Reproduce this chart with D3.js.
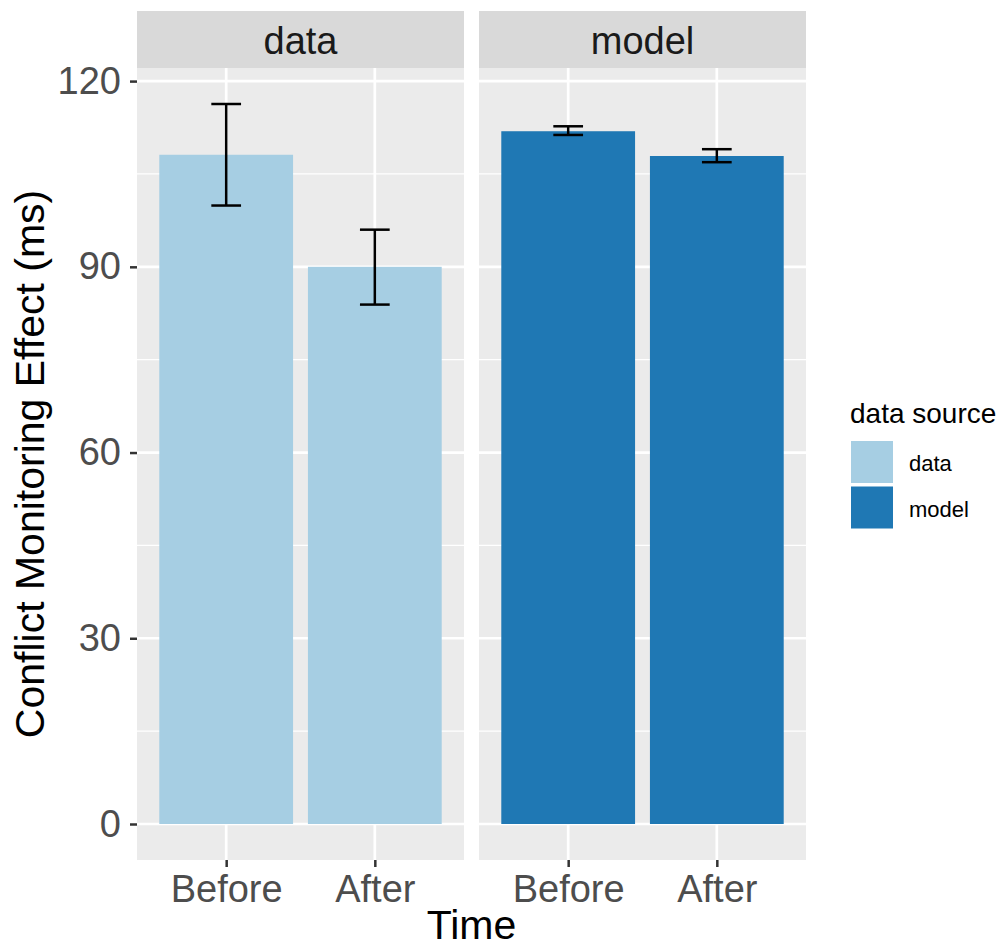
<!DOCTYPE html>
<html>
<head>
<meta charset="utf-8">
<script src="https://cdn.jsdelivr.net/npm/d3@7"></script>
<style>
  body { margin: 0; background: #fff; }
  svg { display: block; font-family: "Liberation Sans", Arial, sans-serif; }
</style>
</head>
<body>
<div id="chart"></div>
<script>
// values
const times = ["Before", "After"];
const sources = ["data", "model"];
const dataMean = [108.1, 90.0];
const dataLower = [99.9, 83.9];
const dataUpper = [116.3, 96.0];
const modelMean = [111.9, 107.9];
const modelLower = [111.3, 106.9];
const modelUpper = [112.7, 109.0];
const yTicks = [0, 30, 60, 90, 120];
const yMinor = [15, 45, 75, 105];
const colors = ["#a6cee3", "#1f78b4"];

const width = 1001, height = 949;
const panelTop = 68, panelBottom = 860;
const panelW = 327, panelGap = 15, panelLeft = 137;

const svg = d3.select("#chart").append("svg")
    .attr("width", width)
    .attr("height", height);

svg.append("rect").attr("width", width).attr("height", height).attr("fill", "#fff");

// build rows per facet
const facets = sources.map((s, i) => {
    const mean = i === 0 ? dataMean : modelMean;
    const lo = i === 0 ? dataLower : modelLower;
    const hi = i === 0 ? dataUpper : modelUpper;
    return {
        source: s,
        rows: times.map((t, j) => ({ time: t, mean: mean[j], lo: lo[j], hi: hi[j] }))
    };
});

// y scale with ggplot-like 5% expansion
const maxV = d3.max(facets, f => d3.max(f.rows, r => r.hi));
const ext = maxV * 0.05;
let y = d3.scaleLinear().domain([0 - ext, maxV + ext]).range([panelBottom, panelTop]);

facets.forEach((f, i) => {
    const x0 = panelLeft + i * (panelW + panelGap);
    let x = d3.scalePoint().domain(times).range([x0, x0 + panelW]).padding(0.6);
    const step = x.step();

    let g = svg.append("g");

    // strip
    g.append("rect")
        .attr("x", x0).attr("y", 11)
        .attr("width", panelW).attr("height", panelTop - 11)
        .attr("fill", "#d9d9d9");
    g.append("text")
        .attr("x", x0 + panelW / 2).attr("y", 54)
        .attr("text-anchor", "middle")
        .attr("font-size", 38)
        .attr("fill", "#1a1a1a")
        .text(f.source);

    // panel background
    g.append("rect")
        .attr("x", x0).attr("y", panelTop)
        .attr("width", panelW).attr("height", panelBottom - panelTop)
        .attr("fill", "#ebebeb");

    // grid
    g.selectAll(".minor").data(yMinor).enter().append("line")
        .attr("x1", x0).attr("x2", x0 + panelW)
        .attr("y1", d => y(d)).attr("y2", d => y(d))
        .attr("stroke", "#fff").attr("stroke-width", 1.3);
    g.selectAll(".major").data(yTicks).enter().append("line")
        .attr("x1", x0).attr("x2", x0 + panelW)
        .attr("y1", d => y(d)).attr("y2", d => y(d))
        .attr("stroke", "#fff").attr("stroke-width", 2.7);
    g.selectAll(".vgrid").data(times).enter().append("line")
        .attr("x1", d => x(d)).attr("x2", d => x(d))
        .attr("y1", panelTop).attr("y2", panelBottom)
        .attr("stroke", "#fff").attr("stroke-width", 2.7);

    // bars
    g.selectAll(".bar").data(f.rows).enter().append("rect")
        .attr("x", d => x(d.time) - step * 0.45)
        .attr("y", d => y(d.mean))
        .attr("width", step * 0.9)
        .attr("height", d => y(0) - y(d.mean))
        .attr("fill", colors[i]);

    // error bars
    const eb = g.selectAll(".err").data(f.rows).enter().append("g")
        .attr("stroke", "#000").attr("stroke-width", 2.5);
    eb.append("line")
        .attr("x1", d => x(d.time)).attr("x2", d => x(d.time))
        .attr("y1", d => y(d.lo)).attr("y2", d => y(d.hi));
    eb.append("line")
        .attr("x1", d => x(d.time) - step * 0.1).attr("x2", d => x(d.time) + step * 0.1)
        .attr("y1", d => y(d.hi)).attr("y2", d => y(d.hi));
    eb.append("line")
        .attr("x1", d => x(d.time) - step * 0.1).attr("x2", d => x(d.time) + step * 0.1)
        .attr("y1", d => y(d.lo)).attr("y2", d => y(d.lo));

    // x axis
    const xAxis = g.append("g")
        .attr("transform", "translate(0," + panelBottom + ")")
        .call(d3.axisBottom(x).tickSize(7).tickPadding(8));
    xAxis.select(".domain").remove();
    xAxis.selectAll("line").attr("stroke", "#333").attr("stroke-width", 2.5);
    xAxis.selectAll("text")
        .attr("font-size", 38)
        .attr("fill", "#4d4d4d")
        .attr("font-family", "Liberation Sans, Arial, sans-serif");
});

// y axis
const yAxis = svg.append("g")
    .attr("transform", "translate(" + panelLeft + ",0)")
    .call(d3.axisLeft(y).tickValues(yTicks).tickSize(7).tickPadding(9));
yAxis.select(".domain").remove();
yAxis.selectAll("line").attr("stroke", "#333").attr("stroke-width", 2.5);
yAxis.selectAll("text")
    .attr("font-size", 38)
    .attr("fill", "#4d4d4d")
    .attr("font-family", "Liberation Sans, Arial, sans-serif");

// axis titles
svg.append("text")
    .attr("x", panelLeft + panelW + panelGap / 2).attr("y", 939)
    .attr("text-anchor", "middle")
    .attr("font-size", 41)
    .attr("fill", "#000")
    .text("Time");

svg.append("text")
    .attr("transform", "translate(44," + ((panelTop + panelBottom) / 2) + ") rotate(-90)")
    .attr("text-anchor", "middle")
    .attr("font-size", 41)
    .attr("fill", "#000")
    .text("Conflict Monitoring Effect (ms)");

// legend
const legend = svg.append("g").attr("transform", "translate(850,0)");
legend.append("text")
    .attr("x", 0).attr("y", 423)
    .attr("font-size", 28)
    .attr("fill", "#000")
    .text("data source");
legend.selectAll(".key").data(sources).enter().append("rect")
    .attr("x", 1).attr("y", (d, i) => 441 + i * 45.5)
    .attr("width", 42).attr("height", 42)
    .attr("fill", (d, i) => colors[i]);
legend.selectAll(".lab").data(sources).enter().append("text")
    .attr("x", 59).attr("y", (d, i) => 471 + i * 46)
    .attr("font-size", 22)
    .attr("fill", "#000")
    .text(d => d);
</script>
</body>
</html>
